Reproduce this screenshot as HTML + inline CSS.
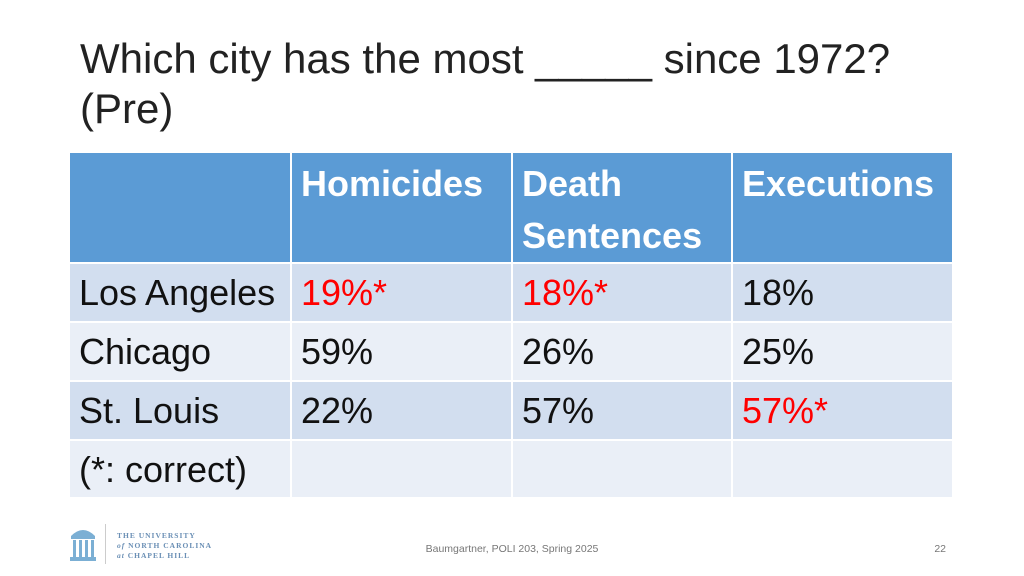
<!DOCTYPE html>
<html><head><meta charset="utf-8"><style>
body{margin:0;width:1024px;height:576px;background:#fff;position:relative;overflow:hidden;font-family:"Liberation Sans",sans-serif;}
.title{position:absolute;left:80px;top:34px;font-size:42px;line-height:50px;color:#222;}
.cell{position:absolute;box-sizing:border-box;font-size:36px;line-height:52px;padding-left:9px;color:#111;}
.h{background:#5B9BD5;color:#fff;font-weight:bold;}
.d{background:#D2DEEF}.l{background:#EAEFF7}
.r{color:#f00}
</style></head><body>
<div class="title">Which city has the most _____ since 1972?<br>(Pre)</div>
<div id="tbl"></div>
<svg style="position:absolute;left:68px;top:524px" width="30" height="40">
<path d="M3 12 Q15 0 27 12 Z" fill="#7BAFD4"/><rect x="3" y="12" width="24" height="3" fill="#7BAFD4"/>
<rect x="5" y="16" width="3" height="17" fill="#7BAFD4"/><rect x="11" y="16" width="3" height="17" fill="#7BAFD4"/><rect x="17" y="16" width="3" height="17" fill="#7BAFD4"/><rect x="23" y="16" width="3" height="17" fill="#7BAFD4"/>
<rect x="2" y="33" width="26" height="4" fill="#7BAFD4"/></svg>
<div style="position:absolute;left:105px;top:524px;width:1px;height:40px;background:#ccc"></div>
<div style="position:absolute;left:117px;top:531px;font-family:'Liberation Serif',serif;font-size:7.5px;line-height:10px;color:#6a8fb5;font-weight:bold;letter-spacing:1px">THE UNIVERSITY<br><i>of</i> NORTH CAROLINA<br><i>at</i> CHAPEL HILL</div>
<div style="position:absolute;left:0;width:1024px;text-align:center;top:543px;font-size:10.5px;color:#777">Baumgartner, POLI 203, Spring 2025</div>
<div style="position:absolute;left:920px;top:543px;font-size:10.5px;color:#777;width:26px;text-align:right">22</div>
<script>
const cols=[70,291,512,732,953];
const rowsY=[153,263,322,381,440,498];
const rows=[
 [["",""],["Homicides",""],["Death<br>Sentences",""],["Executions",""]],
 [["Los Angeles",""],["19%*","r"],["18%*","r"],["18%",""]],
 [["Chicago",""],["59%",""],["26%",""],["25%",""]],
 [["St. Louis",""],["22%",""],["57%",""],["57%*","r"]],
 [["(*: correct)",""],["",""],["",""],["",""]]
];
const names=["header","los-angeles","chicago","st-louis","note"];
const t=document.getElementById('tbl');
rows.forEach((row,i)=>{row.forEach((c,j)=>{
 const d=document.createElement('div');
 d.className='cell '+(i==0?'h':(i%2?'d':'l'))+' '+c[1];
 d.style.left=(cols[j]+(j?1:0))+'px';d.style.top=(rowsY[i]+(i?1:0))+'px';
 d.style.width=(cols[j+1]-cols[j]-(j?1:0)-1)+'px';d.style.height=(rowsY[i+1]-rowsY[i]-(i?1:0)-1)+'px';
 d.style.paddingTop=(i==0?'5px':'3px');
 d.innerHTML=c[0];
 
 
 t.appendChild(d);});});
</script>
</body></html>
